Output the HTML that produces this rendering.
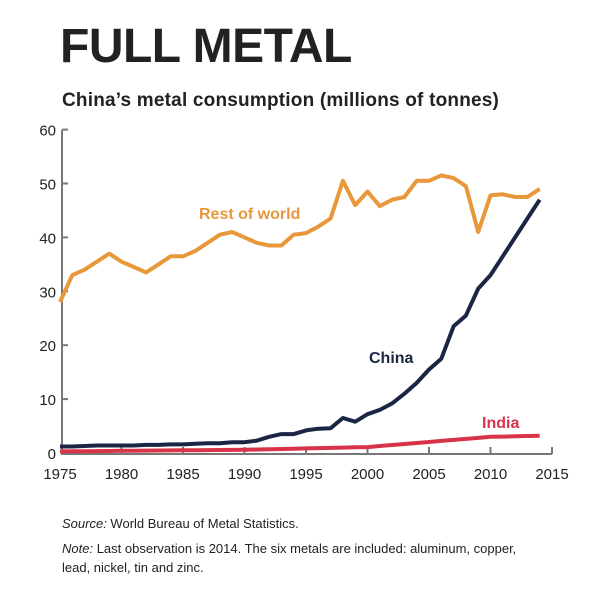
<!DOCTYPE html>
<html><head><meta charset="utf-8"><style>
body{margin:0;background:#fff;width:610px;height:593px;overflow:hidden;font-family:"Liberation Sans",Arial,sans-serif}
</style></head><body>
<svg id="s" width="610" height="593" xmlns="http://www.w3.org/2000/svg" font-family="Liberation Sans, Arial, sans-serif">
<text x="60" y="62" font-size="48" font-weight="bold" fill="#222" letter-spacing="-0.5">FULL METAL</text>
<text x="62" y="106" font-size="19" font-weight="bold" fill="#222" letter-spacing="0.2">China’s metal consumption (millions of tonnes)</text>
<g id="ax" stroke="#777" stroke-width="2" fill="none"></g>
<g id="lab" font-size="15" fill="#222"></g>
<g id="ser" fill="none" stroke-width="4" stroke-linejoin="round"></g>
<text x="199" y="219" font-size="16" font-weight="bold" fill="#e8973a">Rest of world</text>
<text x="369" y="363" font-size="16" font-weight="bold" fill="#1a2644">China</text>
<text x="482" y="428" font-size="16" font-weight="bold" fill="#d9334a">India</text>
<text x="62" y="528" font-size="13" fill="#222"><tspan font-style="italic">Source:</tspan>  World Bureau of Metal Statistics.</text>
<text x="62" y="553" font-size="13" fill="#222"><tspan font-style="italic">Note:</tspan> Last observation is 2014. The six metals are included: aluminum, copper,</text>
<text x="62" y="572" font-size="13" fill="#222">lead, nickel, tin and zinc.</text>
</svg>
<script>
var X=function(y){return 60+12.3*(y-1975)},Y=function(v){return 453-5.39*v};
var ns="http://www.w3.org/2000/svg";
function el(p,t,a,txt){var e=document.createElementNS(ns,t);for(var k in a)e.setAttribute(k,a[k]);if(txt!==undefined)e.textContent=txt;document.getElementById(p).appendChild(e);}
el("ax","path",{d:"M62 130V454H552"});
for(var v=0;v<=60;v+=10){el("ax","path",{d:"M62 "+Y(v)+"h6"});el("lab","text",{x:56,y:Y(v)+6,"text-anchor":"end"},String(v));}
for(var y=1980;y<=2015;y+=5){el("ax","path",{d:"M"+X(y)+" 454v-7"});}
for(var y=1975;y<=2015;y+=5)el("lab","text",{x:X(y),y:479,"text-anchor":"middle"},String(y));
var row=[28,33,34,35.5,37,35.5,34.5,33.5,35,36.5,36.5,37.5,39,40.5,41,40,39,38.5,38.5,40.5,40.8,42,43.5,50.5,46,48.5,45.8,47,47.5,50.5,50.5,51.5,51,49.5,41,47.8,48,47.5,47.5,49];
var ch=[1.2,1.2,1.3,1.4,1.4,1.4,1.4,1.5,1.5,1.6,1.6,1.7,1.8,1.8,2,2,2.3,3,3.5,3.5,4.2,4.5,4.6,6.5,5.8,7.2,8,9.2,11,13,15.5,17.5,23.5,25.5,30.5,33,36.5,40,43.5,47];
var ind=[];for(var i=0;i<40;i++){var yr=1975+i;ind.push(yr<1990?0.3+0.02*i:yr<2000?0.6+0.05*(yr-1990):yr<2010?1.1+0.19*(yr-2000):3+0.05*(yr-2010));}
function line(d,c){var s="";d.forEach(function(v,i){s+=(i?"L":"M")+X(1975+i).toFixed(1)+" "+Y(v).toFixed(1)});el("ser","path",{d:s,stroke:c});}
line(ind,"#d9334a");line(ch,"#1a2644");line(row,"#e8973a");
</script>
</body></html>
